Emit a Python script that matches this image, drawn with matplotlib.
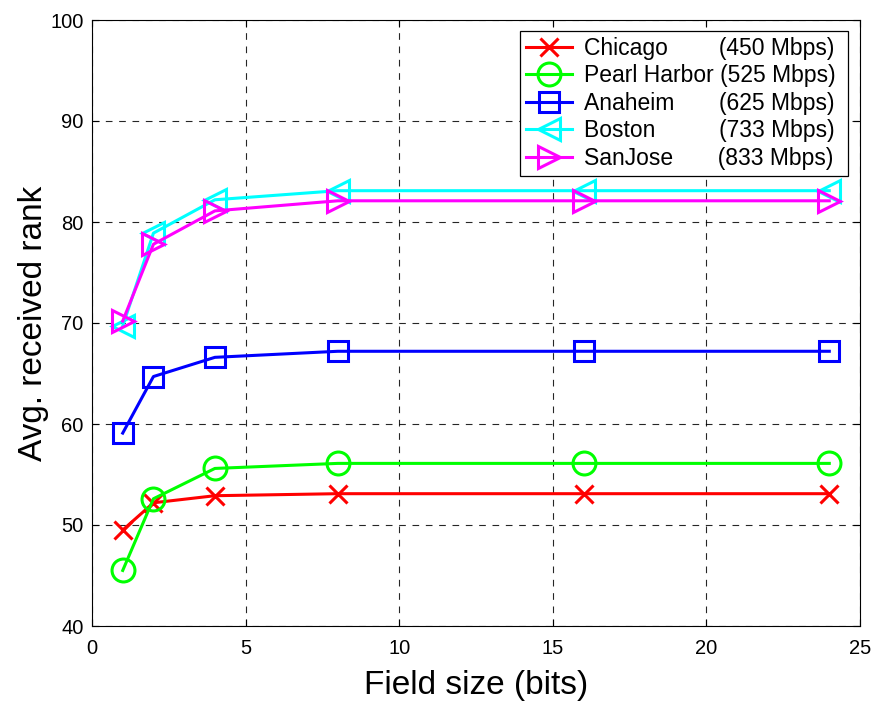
import numpy as np
from matplotlib import pyplot as plt

plt.rcParams['font.family'] = ['Liberation Sans', 'DejaVu Sans']

field_bits = [1, 2, 4, 8, 16, 24]

chicago = [49.5, 52.2, 52.9, 53.1, 53.1, 53.1]
pearl_harbor = [45.5, 52.6, 55.6, 56.1, 56.1, 56.1]
anaheim = [59.1, 64.7, 66.6, 67.2, 67.2, 67.2]
boston = [69.7, 78.9, 82.2, 83.1, 83.1, 83.1]
sanjose = [70.2, 77.8, 81.1, 82.1, 82.1, 82.1]

labels = ['Chicago        (450 Mbps) ',
          'Pearl Harbor (525 Mbps) ',
          'Anaheim       (625 Mbps) ',
          'Boston          (733 Mbps) ',
          'SanJose       (833 Mbps) ']

series = [chicago, pearl_harbor, anaheim, boston, sanjose]
colors = ['#ff0000', '#00ff00', '#0000ff', '#00ffff', '#ff00ff']
markers = ['x', 'o', 's', '<', '>']
msizes = [13, 16.5, 14.5, 16, 16]

fig = plt.figure(figsize=(8.9, 7.04), dpi=100)
ax = fig.add_axes([92/890, 78/704, 768/890, 606/704])

for vals, c, m, ms, lab in zip(series, colors, markers, msizes, labels):
    ax.plot(field_bits, vals, color=c, marker=m, markersize=ms,
            markerfacecolor='none', markeredgewidth=2.2, linewidth=2.2,
            label=lab)

ax.set_xlim(0, 25)
ax.set_ylim(40, 100)
ax.set_xticks([0, 5, 10, 15, 20, 25])
ax.set_yticks([40, 50, 60, 70, 80, 90, 100])
ax.tick_params(labelsize=14.5, direction='in', length=5,
               top=True, right=True)
ax.tick_params(axis='y', pad=6)
ax.tick_params(axis='x', pad=9)
ax.grid(True, linestyle=(0, (6, 6)), color='k', linewidth=0.8, alpha=0.85)
ax.set_xlabel('Field size (bits)', fontsize=24, labelpad=9)
ax.set_ylabel('Avg. received rank', fontsize=24, labelpad=1)

leg = ax.legend(loc='upper right', fontsize=16.5, fancybox=False,
                edgecolor='k', framealpha=1, borderaxespad=0,
                bbox_to_anchor=(848/890, 1 - 31/704),
                bbox_transform=fig.transFigure,
                handlelength=2.0, handletextpad=0.55, labelspacing=0.2,
                borderpad=0.25)
leg.get_frame().set_linewidth(0.9)

plt.savefig('out.png', dpi=100)
